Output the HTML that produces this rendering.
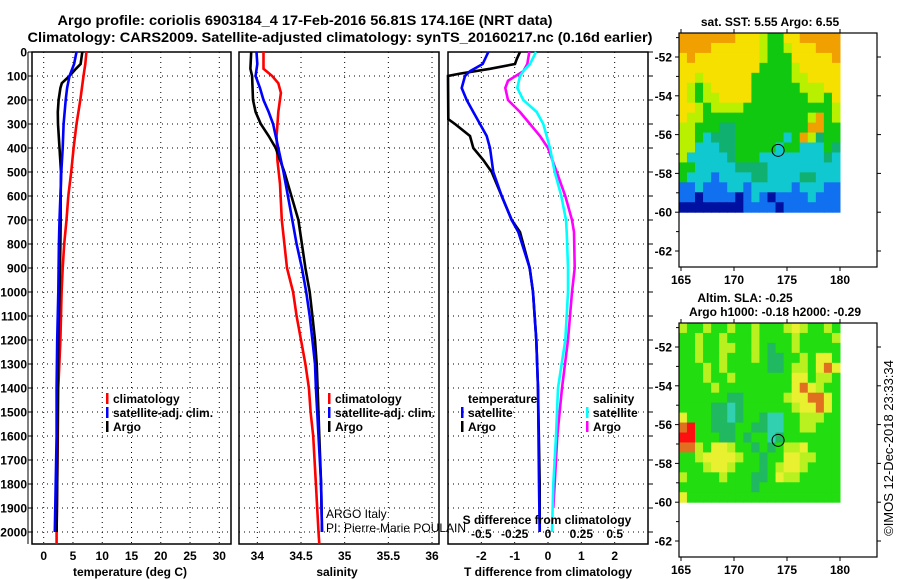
<!DOCTYPE html>
<html><head><meta charset="utf-8"><style>
html,body{margin:0;padding:0;background:#fff}
svg{display:block;font-family:"Liberation Sans",sans-serif}
.b{font-weight:bold;font-size:12px}
</style></head><body>
<svg id="fig" width="900" height="580" viewBox="0 0 900 580">
<text x="305" y="25" text-anchor="middle" font-size="14" font-weight="bold" textLength="495" lengthAdjust="spacingAndGlyphs">Argo profile: coriolis 6903184_4 17-Feb-2016 56.81S 174.16E (NRT data)</text>
<text x="340" y="42" text-anchor="middle" font-size="14" font-weight="bold" textLength="625" lengthAdjust="spacingAndGlyphs">Climatology: CARS2009. Satellite-adjusted climatology: synTS_20160217.nc (0.16d earlier)</text>
<g id="g"></g>
</svg>
<script>
// ---- data ----
const depthTicks=[0,100,200,300,400,500,600,700,800,900,1000,1100,1200,1300,1400,1500,1600,1700,1800,1900,2000];
const tempTicks=[0,5,10,15,20,25,30];
const salTicks=[34,34.5,35,35.5,36];
const tdTicks=[-2,-1,0,1,2];
const sdTicks=[-0.5,-0.25,0,0.25,0.5];
const tempClimDepth=[0,50,100,200,300,400,500,600,700,800,900,1000,1200,1400,1600,1800,2000,2050];
const tempClim=[7.3,7.1,6.8,6.25,5.6,5.1,4.7,4.2,3.9,3.5,3.25,3.05,2.85,2.5,2.4,2.3,2.2,2.2];
const tempSatDepth=[0,50,100,150,200,300,400,500,600,700,800,1000,1200,1400,1600,1800,2000];
const tempSat=[5.6,5.2,4.4,4.0,3.75,3.4,3.25,3.0,2.85,2.7,2.6,2.5,2.3,2.2,2.2,2.05,1.9];
const tempArgoDepth=[0,50,70,100,130,150,200,250,300,400,500,600,700,800,1000,1200,1400,1600,1800,2000];
const tempArgo=[6.6,6.3,5.5,4.4,3.1,2.85,2.55,2.4,2.45,2.7,2.95,2.9,2.9,2.85,2.7,2.5,2.4,2.35,2.3,2.2];
const salClimDepth=[0,70,100,130,170,250,350,450,550,700,800,900,1000,1100,1200,1300,1400,1500,1600,1800,2000,2050];
const salClim=[34.07,34.07,34.17,34.24,34.27,34.24,34.22,34.23,34.26,34.28,34.31,34.34,34.41,34.45,34.50,34.55,34.59,34.61,34.64,34.67,34.70,34.71];
const salSatDepth=[0,50,100,150,200,250,300,400,500,600,700,800,900,1000,1100,1200,1300,1400,1600,1800,2000];
const salSat=[33.99,34.0,33.98,34.03,34.07,34.13,34.18,34.24,34.30,34.35,34.40,34.45,34.51,34.56,34.60,34.63,34.66,34.67,34.70,34.73,34.74];
const salArgoDepth=[0,70,100,200,250,300,350,400,500,600,700,800,900,1000,1100,1200,1300,1400,1600,1800,2000];
const salArgo=[33.93,33.92,33.94,33.95,33.98,34.04,34.13,34.21,34.31,34.39,34.47,34.51,34.55,34.60,34.63,34.66,34.68,34.69,34.71,34.73,34.74];
const tdSatDepth=[0,50,80,100,150,200,250,300,350,400,500,600,700,750,900,1000,1200,1400,1800,2000];
const tdSat=[-1.79,-1.96,-2.34,-2.49,-2.59,-2.44,-2.24,-2.04,-1.84,-1.74,-1.64,-1.39,-1.09,-0.89,-0.55,-0.45,-0.35,-0.3,-0.27,-0.25];
const tdArgoDepth=[0,30,50,70,90,100,280,300,350,400,450,500,550,600,700,750,900,1000,1200,1400,1800,2000];
const tdArgo=[-0.84,-0.94,-0.99,-1.74,-2.64,-3.0,-2.99,-2.79,-2.34,-2.24,-1.94,-1.69,-1.54,-1.39,-1.09,-0.84,-0.55,-0.45,-0.35,-0.3,-0.25,-0.25];
const sdSatDepth=[0,50,80,100,150,200,250,300,400,500,600,700,750,900,1000,1200,1400,1600,1800,2000];
const sdSat=[-0.09,-0.135,-0.185,-0.21,-0.23,-0.185,-0.085,-0.035,0.015,0.05,0.10,0.135,0.14,0.15,0.15,0.13,0.075,0.06,0.04,0.03];
const sdArgoDepth=[0,50,80,120,150,200,250,300,350,400,500,600,700,750,900,1000,1200,1400,1600,1800,1900];
const sdArgo=[-0.14,-0.155,-0.185,-0.30,-0.32,-0.30,-0.21,-0.135,-0.06,0,0.065,0.13,0.18,0.195,0.2,0.18,0.15,0.105,0.07,0.05,0.04];
const latTicks=[-52,-54,-56,-58,-60,-62];
const lonTicks=[165,170,175,180];
const floatLon=174.16, floatLat=-56.81;
const sstGrid=["OOOOOOOYYYLGGYYOOOOO","OOOOYYYYYYLGGLYYYOOO","YOYYYYYYYYLGGGYYYYYO","YYYYYYYYYYGGGGLYYYYY","YYLYYYYYYGGGGGLLYYYY","YLGLYYYYYGGGGGGLLLYY","YLGLLYYYYGGGGGGGLLGY","YYLGLLLLGGGGGGGGGGGL","YLLGGGGGGGGGGGGGLOGL","LLGGGDDGGGGGGGGGOOGG","LLGCDDDGGGGGGCGOLDGG","LLCCCDDGGGGGCGGCCCGD","LCCCCCDGGGCCCCCCCCDC","GGCCCCCDDDDCCCCCCCCC","GCCCBCCCCDDCCCCDDCCC","BBCBBBCCBCCCCCBCCCBB","BBNBBBBNBCBNBBBBCBBB","NNNNNNNNBBBBNBBBBBBB"];
const slaGrid=["LGGLGGLGGLGGGLYLGGLG","GGLGGLGGGLGGGGLGGGGL","GGLGGLLGGLGTGGLGGGGG","GGLGGLGGGLGTTGGLGYYG","GGGLGLGGGGGTTGLLGYOY","GGGLGGLGGGGGGGYYGLLG","GGGGLGGGGGGGGGYOYLGG","GGGGGGTTGGGGGLYYOOYG","GGGGTTCTGGGGGGLYYOYG","YGGGTTCTGGTCCGGLLLGG","ORGGTTTGGTTCCGGLLGGG","RRGGGTTGTGGCTGGGGGGG","OOLGYYLGGTGTGLLYGGGG","GGLYYYYLGGTGGYYLLGGG","GGGLYYLGGGTGLYYLGGGG","LGGGGLGGGTTGYLLGGGGG","GGGGGGGGGTGGGGGGGGGG","YGGGGGGGGGGGGGGGGGGG"];

// ---- geometry ----
const NS="http://www.w3.org/2000/svg";
const G=document.getElementById('g');
function el(tag,attrs,parent){const e=document.createElementNS(NS,tag);for(const k in attrs)e.setAttribute(k,attrs[k]);(parent||G).appendChild(e);return e;}
function txt(x,y,s,cls,anchor,parent){const t=el('text',{x:x,y:y,'text-anchor':anchor||'middle'},parent);if(cls)t.setAttribute('class',cls);t.textContent=s;return t;}
const plotTop=52, plotBot=544;
const yD=d=>plotTop+d*0.24;
const panels=[{x0:32,x1:231,min:-2,max:32},{x0:239,x1:439,min:33.79,max:36.08},{x0:448,x1:648,min:-3,max:3}];
function sx(p,v){return p.x0+(v-p.min)/(p.max-p.min)*(p.x1-p.x0);}
const sdScale={x0:448,x1:648,min:-0.75,max:0.75};

panels.forEach((p,i)=>{
  const fr=el('g',{});
  
  
  depthTicks.forEach(d=>{if(d>0){el('line',{x1:p.x0,x2:p.x1,y1:yD(d),y2:yD(d),stroke:'#000','stroke-dasharray':'1,4'},fr);}});
  const ticks=i==0?tempTicks:i==1?salTicks:tdTicks;
  ticks.forEach(v=>{const x=sx(p,v);el('line',{x1:x,x2:x,y1:plotTop,y2:plotBot,stroke:'#000','stroke-dasharray':'1,4'},fr);
    const tl=txt(x,560,String(v),'b','middle',fr);
    
    });
  el('rect',{x:p.x0,y:plotTop,width:p.x1-p.x0,height:plotBot-plotTop,fill:'none',stroke:'#000','stroke-width':1.5},fr);
});
depthTicks.forEach(d=>{el('line',{x1:28,x2:32,y1:yD(d),y2:yD(d),stroke:'#000'});
  el('line',{x1:648,x2:653,y1:yD(d),y2:yD(d),stroke:'#000'});
  const tl=txt(27,yD(d)+4.5,String(d),'b','end');
  
  });
el('line',{x1:28,x2:28,y1:plotTop,y2:plotBot,stroke:'#000'});
sdTicks.forEach(v=>{const tl=txt(sx(sdScale,v),538,String(v),'b');
  
  });

function line(p,vals,depths,color,name){
  const pts=vals.map((v,k)=>Math.max(p.x0,Math.min(p.x1,sx(p,v))).toFixed(1)+','+yD(depths[k]).toFixed(1)).join(' ');
  const l=el('polyline',{points:pts,fill:'none',stroke:color,'stroke-width':2.6});
  
  
}
const P=panels;
line(P[0],tempClim,tempClimDepth,'#ff0000','temp-climatology-line');
line(P[0],tempArgo,tempArgoDepth,'#000','temp-argo-line');
line(P[0],tempSat,tempSatDepth,'#0000ff','temp-satellite-line');
line(P[1],salClim,salClimDepth,'#ff0000','sal-climatology-line');
line(P[1],salArgo,salArgoDepth,'#000','sal-argo-line');
line(P[1],salSat,salSatDepth,'#0000ff','sal-satellite-line');
line(P[2],tdArgo,tdArgoDepth,'#000','tdiff-argo-line');
line(P[2],tdSat,tdSatDepth,'#0000ff','tdiff-satellite-line');
line(sdScale,sdArgo,sdArgoDepth,'#ff00ff','sdiff-argo-line');
line(sdScale,sdSat,sdSatDepth,'#00ffff','sdiff-satellite-line');

function legend(x,y,color,label){const g=el('g',{});
  
  
  if(color)el('rect',{x:x-7,y:y-10,width:2.5,height:11,fill:color},g);
  txt(x,y,label,'b','start',g).setAttribute('font-size','13');}
legend(113,403,'#ff0000','climatology');legend(113,417,'#0000ff','satellite-adj. clim.');legend(113,431,'#000','Argo');
legend(335,403,'#ff0000','climatology');legend(335,417,'#0000ff','satellite-adj. clim.');legend(335,431,'#000','Argo');
legend(468,403,null,'temperature');legend(468,417,'#0000ff','satellite');legend(468,431,'#000','Argo');
legend(593,403,null,'salinity');legend(593,417,'#00ffff','satellite');legend(593,431,'#ff00ff','Argo');
txt(326,518,'ARGO Italy',null,'start').setAttribute('font-size','12');
txt(326,532,'PI: Pierre-Marie POULAIN',null,'start').setAttribute('font-size','12');
let tt0=txt(547,524,'S difference from climatology','b');tt0.setAttribute('font-size','13');
tt0=txt(130,576,'temperature (deg C)','b');tt0.setAttribute('font-size','13');


tt0=txt(337,576,'salinity','b');tt0.setAttribute('font-size','13');


tt0=txt(548,576,'T difference from climatology','b');tt0.setAttribute('font-size','13');



// ---- maps ----
const sstCol={O:'#f0a000',Y:'#f5e000',L:'#b8f000',G:'#10c810',D:'#10b070',C:'#10c8d0',B:'#1070f0',N:'#0010a0'};
const slaCol={G:'#22dd10',L:'#b8f020',Y:'#e8f030',T:'#20b860',C:'#30d0b0',O:'#e07020',R:'#ff1010'};
function map(y0,grid,cols,name){
  const g=el('g',{});
  
  
  const x0=679,x1=877,fy1=y0+234;
  const lx=v=>681+(v-165)*10.6, ly=v=>y0+24+(-52-v)*19.4;
  const imgL=lx(164.8),imgR=lx(180),imgT=y0,imgB=ly(-60);
  const cw=(imgR-imgL)/20,ch=(imgB-imgT)/18;
  grid.forEach((row,r)=>{for(let c=0;c<row.length;c++)el('rect',{x:imgL+c*cw,y:imgT+r*ch,width:cw+0.5,height:ch+0.5,fill:cols[row[c]]},g);});
  el('rect',{x:x0,y:y0,width:x1-x0,height:fy1-y0,fill:'none',stroke:'#000','stroke-width':1.2},g);
  latTicks.forEach(v=>{el('line',{x1:x0-4,x2:x0,y1:ly(v),y2:ly(v),stroke:'#000'},g);el('line',{x1:x1,x2:x1+4,y1:ly(v),y2:ly(v),stroke:'#000'},g);
    const tl=txt(672,ly(v)+4.5,String(v),'b','end',g);tl.setAttribute('font-size','13');});
  [-51,-53,-55,-57,-59,-61,-63].forEach(v=>{if(ly(v)<fy1)el('line',{x1:x0-3,x2:x0,y1:ly(v),y2:ly(v),stroke:'#000'},g);});
  lonTicks.forEach(v=>{el('line',{x1:lx(v),x2:lx(v),y1:y0-4,y2:y0,stroke:'#000'},g);el('line',{x1:lx(v),x2:lx(v),y1:fy1,y2:fy1+4,stroke:'#000'},g);
    const tl=txt(lx(v),fy1+17,String(v),'b','middle',g);tl.setAttribute('font-size','13');});
  const c=el('circle',{cx:lx(floatLon),cy:ly(floatLat),r:6,fill:'none',stroke:'#000','stroke-width':1},g);
  
  
}
map(33,sstGrid,sstCol,'sst-map');
map(323,slaGrid,slaCol,'sla-map');
tt0=txt(770,26,'sat. SST: 5.55 Argo: 6.55','b');tt0.setAttribute('font-size','13');
tt0=txt(745,302,'Altim. SLA: -0.25','b');tt0.setAttribute('font-size','13');
tt0=txt(775,316,'Argo h1000: -0.18 h2000: -0.29','b');tt0.setAttribute('font-size','13');
tt0=txt(0,0,'©IMOS 12-Dec-2018 23:33:34',null,'middle');tt0.setAttribute('font-size','13');tt0.setAttribute('transform','translate(893,448) rotate(-90)');


</script>
</body></html>
